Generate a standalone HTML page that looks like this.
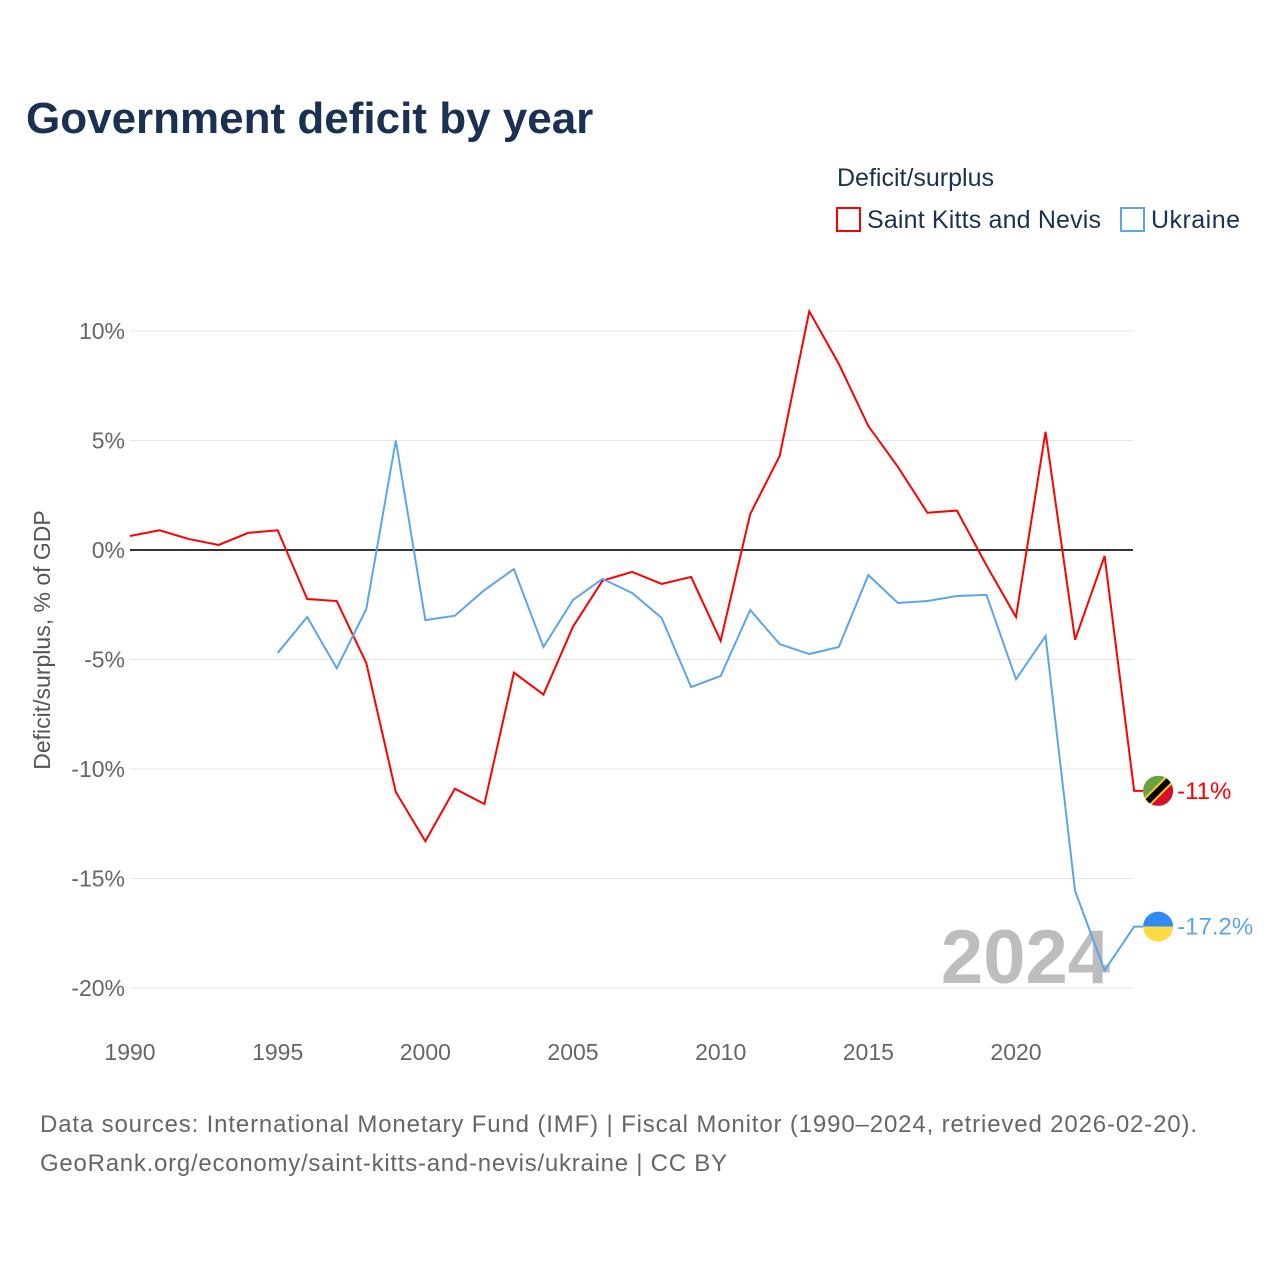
<!DOCTYPE html>
<html><head><meta charset="utf-8"><style>
body{margin:0;background:#fff;width:1280px;height:1280px;overflow:hidden;font-family:"Liberation Sans",sans-serif}
</style></head><body>
<svg width="1280" height="1280" xmlns="http://www.w3.org/2000/svg" id="svg">
<text x="26" y="133" font-size="44" font-weight="bold" fill="#1b3153">Government deficit by year</text>
<text x="837" y="186" font-size="25" fill="#1b3153">Deficit/surplus</text>
<g><rect x="837" y="208" width="23" height="23" fill="none" stroke="#ff0000" stroke-width="2"/><text x="867" y="228" font-size="25" fill="#1b3153" textLength="234">Saint Kitts and Nevis</text></g>
<g><rect x="1121" y="208" width="23" height="23" fill="none" stroke="#5aa6ec" stroke-width="2"/><text x="1151" y="228" font-size="25" fill="#1b3153" textLength="89">Ukraine</text></g>
<text transform="translate(50,640) rotate(-90)" text-anchor="middle" font-size="23" fill="#555">Deficit/surplus, % of GDP</text>
<g id="grid"></g>
<text x="1110" y="983" text-anchor="end" font-size="76" font-weight="bold" fill="#bdbdbd">2024</text>
<g id="lines"></g>
<text x="40" y="1132" font-size="24" fill="#666" textLength="1157">Data sources: International Monetary Fund (IMF) | Fiscal Monitor (1990–2024, retrieved 2026-02-20).</text>
<text x="40" y="1171" font-size="24" fill="#666" textLength="687">GeoRank.org/economy/saint-kitts-and-nevis/ukraine | CC BY</text>
</svg>
<script>
const years=[1990,1991,1992,1993,1994,1995,1996,1997,1998,1999,2000,2001,2002,2003,2004,2005,2006,2007,2008,2009,2010,2011,2012,2013,2014,2015,2016,2017,2018,2019,2020,2021,2022,2023,2024];
const kna=[0.64,0.9,0.5,0.23,0.78,0.9,-2.24,-2.33,-5.16,-11.05,-13.3,-10.9,-11.6,-5.6,-6.6,-3.5,-1.4,-1.0,-1.55,-1.23,-4.15,1.64,4.3,10.9,8.5,5.66,3.8,1.7,1.8,-0.7,-3.06,5.4,-4.1,-0.27,-11.0];
const ukr=[null,null,null,null,null,-4.7,-3.06,-5.4,-2.7,5.0,-3.2,-3.0,-1.83,-0.87,-4.43,-2.28,-1.32,-1.96,-3.1,-6.26,-5.75,-2.74,-4.3,-4.75,-4.43,-1.14,-2.42,-2.33,-2.1,-2.05,-5.9,-3.93,-15.57,-19.2,-17.2];
const yTicks=[10,5,0,-5,-10,-15,-20];
const xTicks=[1990,1995,2000,2005,2010,2015,2020];
const X=y=>130+(y-1990)*886/30, Y=v=>550-v*21.9;
const NS="http://www.w3.org/2000/svg";
function mk(t,a,p){const e=document.createElementNS(NS,t);for(const k in a)e.setAttribute(k,a[k]);p.appendChild(e);return e;}
const g=document.getElementById('grid'),L=document.getElementById('lines');
yTicks.forEach(v=>{
 const l=mk('line',{x1:130,x2:1133,y1:Y(v),y2:Y(v),stroke:v==0?'#333':'#e6e6e6','stroke-width':v==0?2:1},g);
 
 
 const t=mk('text',{x:125,y:Y(v)+8,'text-anchor':'end','font-size':23,fill:'#666'},g);t.textContent=v+'%';
 
 
});
xTicks.forEach(v=>{const t=mk('text',{x:X(v),y:1060,'text-anchor':'middle','font-size':23,fill:'#666'},g);t.textContent=v;
 
 });
function series(vals,col,name,label,flag){
 const pts=[];vals.forEach((v,i)=>{if(v!==null)pts.push(X(years[i])+','+Y(v));});
 const last=vals[vals.length-1];pts.push((X(2024)+9)+','+Y(last));
 const p=mk('polyline',{points:pts.join(' '),fill:'none',stroke:col,'stroke-width':2},L);
 
 
 const cx=X(2024)+24,cy=Y(last);
 const f=mk('g',{},L);
 
 
 flag(f,cx,cy);
 const t=mk('text',{x:cx+19,y:cy+8,'font-size':24,fill:col},L);t.textContent=label;
 
 
}
series(kna,'#ff0000','line-saint-kitts','-11%',(f,cx,cy)=>{
 mk('clipPath',{id:'c1'},f);const c=f.lastChild;mk('circle',{cx,cy,r:15},c);
 const gg=mk('g',{'clip-path':'url(#c1)'},f);
 mk('rect',{x:cx-15,y:cy-15,width:30,height:30,fill:'#d70e2c'},gg);
 mk('polygon',{points:`${cx-15},${cy-15} ${cx+15},${cy-15} ${cx-15},${cy+15}`,fill:'#6aa33f'},gg);
 mk('line',{x1:cx-16,y1:cy+16,x2:cx+16,y2:cy-16,stroke:'#f7d117','stroke-width':10},gg);
 mk('line',{x1:cx-16,y1:cy+16,x2:cx+16,y2:cy-16,stroke:'#000','stroke-width':6},gg);
});
series(ukr,'#5aa6ec','line-ukraine','-17.2%',(f,cx,cy)=>{
 mk('path',{d:`M${cx-15},${cy} A15,15 0 0 1 ${cx+15},${cy} Z`,fill:'#338af3'},f);
 mk('path',{d:`M${cx-15},${cy} A15,15 0 0 0 ${cx+15},${cy} Z`,fill:'#ffda44'},f);
});
</script>
</body></html>
